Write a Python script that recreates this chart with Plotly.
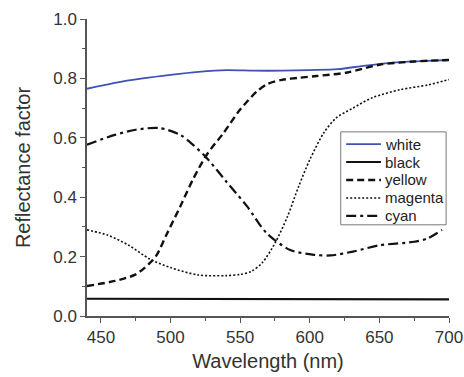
import plotly.graph_objects as go

# Wavelengths (nm) and reflectance factors
wl_white = [440, 460, 480, 500, 520, 540, 560, 580, 600, 620, 640, 660, 680, 700]
white = [0.765, 0.785, 0.800, 0.812, 0.822, 0.828, 0.826, 0.826, 0.828, 0.831, 0.843, 0.853, 0.858, 0.862]

wl_black = [440, 500, 560, 620, 700]
black = [0.058, 0.057, 0.057, 0.056, 0.056]

wl_yellow = [440, 460, 475, 485, 490, 497, 507, 516, 526, 538, 550, 562, 570, 580, 592, 605, 627, 650, 675, 700]
yellow = [0.101, 0.118, 0.140, 0.178, 0.205, 0.273, 0.369, 0.459, 0.543, 0.616, 0.695, 0.756, 0.782, 0.795, 0.802, 0.808, 0.820, 0.846, 0.857, 0.862]

wl_magenta = [440, 455, 470, 485, 500, 520, 540, 550, 558, 566, 575, 584, 592, 600, 610, 619, 631, 645, 665, 685, 700]
magenta = [0.290, 0.272, 0.238, 0.192, 0.163, 0.138, 0.136, 0.140, 0.150, 0.180, 0.245, 0.335, 0.436, 0.526, 0.616, 0.667, 0.700, 0.735, 0.762, 0.778, 0.796]

wl_cyan = [440, 460, 475, 492, 507, 516, 526, 540, 555, 569, 586, 603, 615, 631, 650, 675, 685, 695]
cyan = [0.577, 0.610, 0.627, 0.633, 0.610, 0.577, 0.532, 0.453, 0.369, 0.279, 0.222, 0.206, 0.204, 0.217, 0.238, 0.250, 0.262, 0.290]

series_names = ["white", "black", "yellow", "magenta", "cyan"]

FONT = "Liberation Sans, Arial, sans-serif"
styles = {
    "white": dict(color="#3f51b5", width=1.8),
    "black": dict(color="#111111", width=2.2),
    "yellow": dict(color="#111111", width=2.4, dash="7px,4px"),
    "magenta": dict(color="#111111", width=1.6, dash="2px,2px"),
    "cyan": dict(color="#111111", width=2.2, dash="10px,4px,3px,4px"),
}
data = {
    "white": (wl_white, white),
    "black": (wl_black, black),
    "yellow": (wl_yellow, yellow),
    "magenta": (wl_magenta, magenta),
    "cyan": (wl_cyan, cyan),
}

fig = go.Figure()
for name in series_names:
    xs, ys = data[name]
    st = dict(styles[name])
    if name != "black":
        st["shape"] = "spline"
        st["smoothing"] = 0.8
    fig.add_trace(go.Scatter(x=xs, y=ys, name=name, mode="lines", line=st, showlegend=False))

# Legend box drawn in paper coordinates
shapes = [dict(type="rect", xref="paper", yref="paper", x0=0.701, x1=0.992, y0=0.307, y1=0.620,
               line=dict(color="#777777", width=1), fillcolor="white", layer="above")]
annotations = []
y_top = 0.579
step = 0.0605
for i, name in enumerate(series_names):
    yy = y_top - i * step
    st = styles[name]
    shapes.append(dict(type="line", xref="paper", yref="paper", x0=0.716, x1=0.812, y0=yy, y1=yy,
                       line=dict(color=st["color"], width=st["width"], dash=st.get("dash", "solid")),
                       layer="above"))
    annotations.append(dict(text=name, xref="paper", yref="paper", x=0.818, y=yy,
                            xanchor="left", yanchor="middle", showarrow=False,
                            font=dict(family=FONT, size=15, color="#222222")))

axis_common = dict(
    showline=True, linecolor="#555555", linewidth=1.5, mirror=False,
    ticks="outside", ticklen=5, tickwidth=1.2, tickcolor="#555555",
    showgrid=False, zeroline=False, automargin=False,
    tickfont=dict(family=FONT, size=17, color="#333333"),
)

fig.update_layout(
    width=464, height=377,
    margin=dict(l=87, r=15, t=19, b=61, autoexpand=False),
    paper_bgcolor="white", plot_bgcolor="white",
    font=dict(family=FONT, color="#333333"),
    xaxis=dict(range=[440, 700], tick0=450, dtick=50,
               minor=dict(ticks="outside", ticklen=3, dtick=25, tick0=450, tickcolor="#555555"),
               title=dict(text="Wavelength (nm)", font=dict(size=20), standoff=8),
               **axis_common),
    yaxis=dict(range=[0, 1.0], tick0=0, dtick=0.2, tickformat=".1f",
               minor=dict(ticks="outside", ticklen=3, dtick=0.1, tick0=0, tickcolor="#555555"),
               title=dict(text="Reflectance factor", font=dict(size=20), standoff=17),
               **axis_common),
    shapes=shapes,
    annotations=annotations,
    showlegend=False,
)

fig.write_html("out.html", config={"displayModeBar": False},
               post_script="document.body.style.margin='0';document.body.style.overflow='hidden';")
